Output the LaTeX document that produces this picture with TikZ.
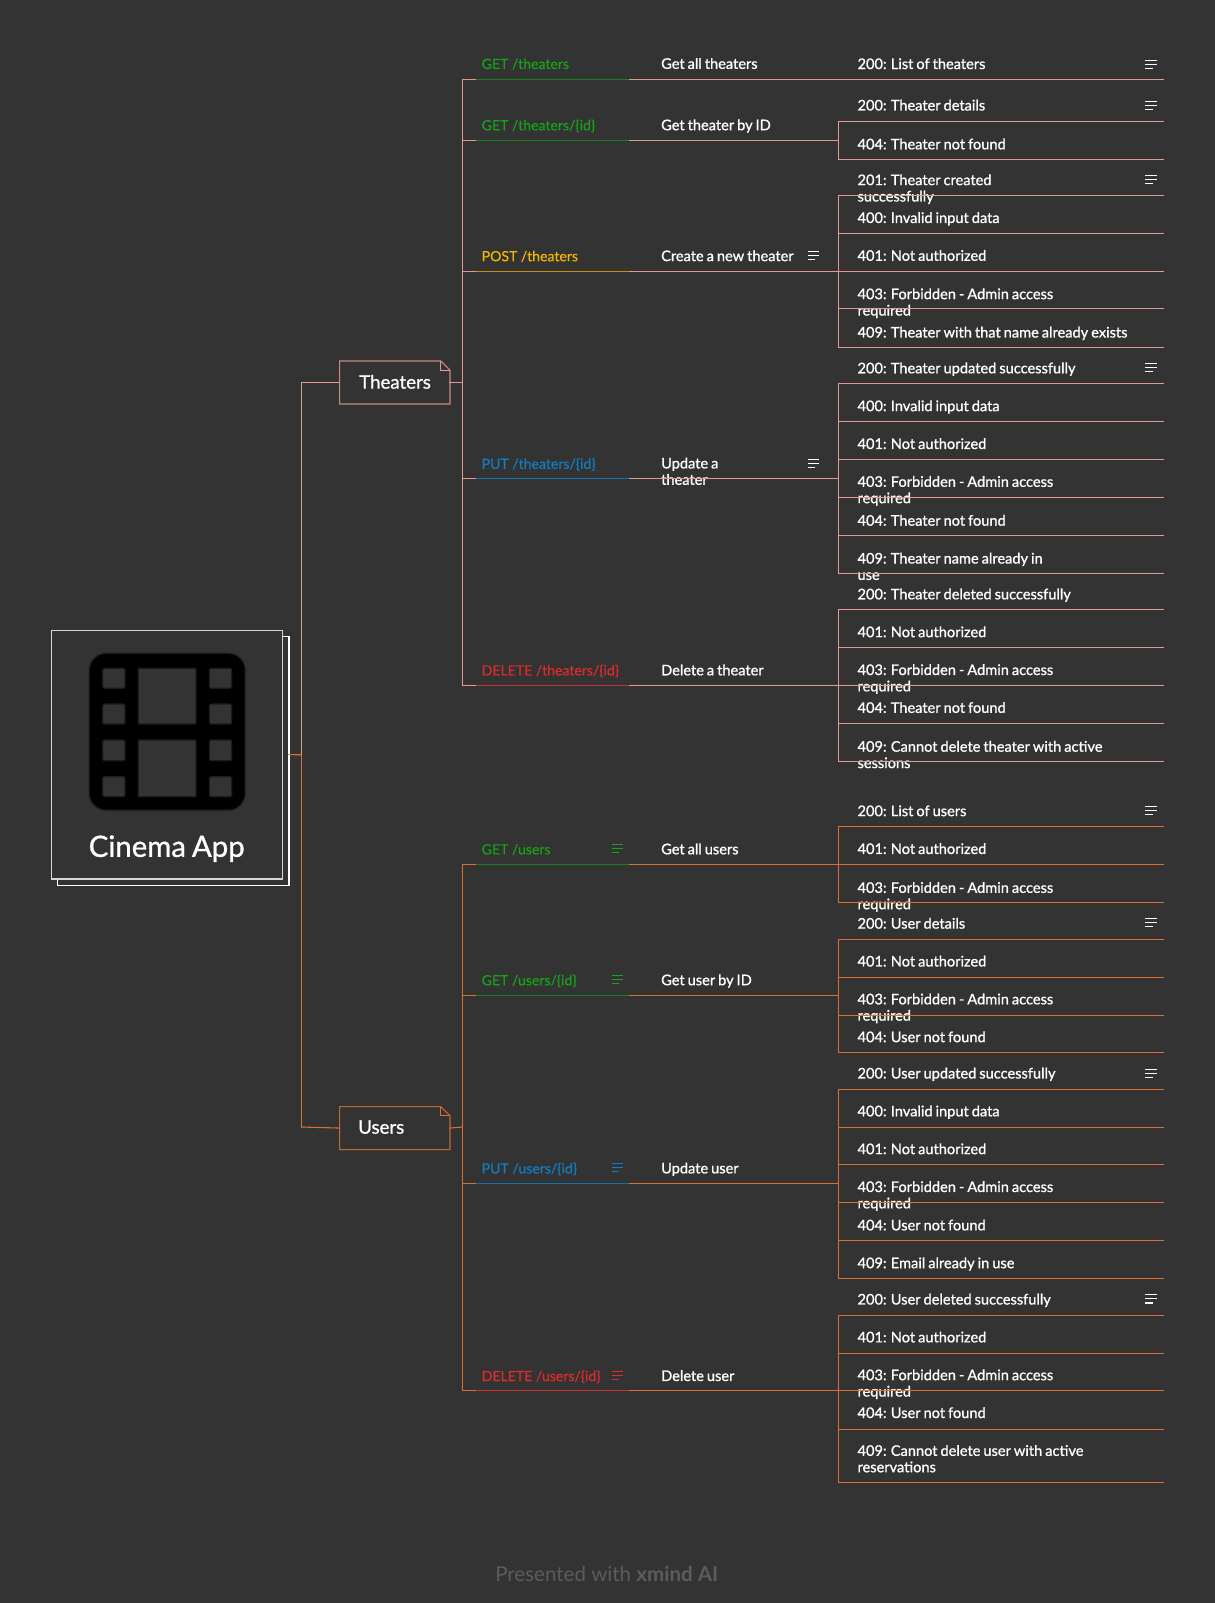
\documentclass[tikz,border=0pt]{standalone}
\usepackage{fontspec}
\setmainfont{Lato}
\newfontfamily\medf[FakeBold=1,WordSpace=0.8]{Lato}
\newfontfamily\apif[FakeBold=0.2]{Lato}
\definecolor{bg}{HTML}{333333}
\definecolor{pk}{HTML}{E39A94}
\definecolor{og}{HTML}{DB6F35}
\definecolor{ggreen}{HTML}{17A317}
\definecolor{gyellow}{HTML}{F5B800}
\definecolor{gblue}{HTML}{0F7FC4}
\definecolor{gred}{HTML}{E02B2B}
\definecolor{lgreen}{HTML}{1B7F1B}
\definecolor{lyellow}{HTML}{C09010}
\definecolor{lblue}{HTML}{1470A8}
\definecolor{lred}{HTML}{C83030}
\newcommand{\twol}[2]{\vtop{\baselineskip=12.27pt\lineskiplimit=-20pt\hbox{#1}\hbox{#2}}}
% icon: x, y-center, colour
\newcommand{\noteicon}[3]{%
  \draw[#3,line width=.85pt] (#1,#2-4) -- ++(11,0) (#1,#2) -- ++(11,0) (#1,#2+4) -- ++(7,0);}
% response: [colour] id, text y, line y, text
\newcommand{\resp}[5][pk]{%
  \node[resptext] (#2-t) at (838.5,#3+5) {#5};
  \coordinate (#2-a) at (819.5,#4);
  \coordinate (#2-b) at (1138,#4);
  \draw[conn,#1] (#2-a) -- (#2-b);}
% api: id, text y, line y, textcol, linecol, method, summary, branchcol
\newcommand{\api}[8]{%
  \node[apitext,#4] (#1-m) at (471,#2+5.4) {#6};
  \node[resptext] (#1-s) at (646.5,#2+5.3) {#7};
  \coordinate (#1-l) at (452,#3);
  \coordinate (#1-c) at (465.5,#3);
  \coordinate (#1-d) at (616,#3);
  \coordinate (#1-r) at (819.5,#3);
  \draw[conn,#8] (#1-l) -- (#1-c);
  \draw[conn,#5] (#1-c) -- (#1-d);
  \draw[conn,#8] (#1-d) -- (#1-r);}
\begin{document}
\begin{tikzpicture}[x=0.767pt,y=-0.767pt,
  conn/.style={line width=0.8pt,line cap=rect},
  resptext/.style={anchor=base west,inner sep=0pt,outer sep=0pt,text=white,font=\medf\fontsize{10.95pt}{12.27pt}\selectfont},
  apitext/.style={anchor=base west,inner sep=0pt,outer sep=0pt,font=\apif\fontsize{10.55pt}{12.27pt}\selectfont},
  topic/.style={draw=none,inner sep=0pt,outer sep=0pt,minimum width=108*0.767pt,minimum height=42*0.767pt},
  topictext/.style={anchor=base west,inner sep=0pt,text=white,font=\medf\fontsize{14pt}{15pt}\selectfont},
  card/.style={draw,fill=bg,inner sep=0pt,outer sep=0pt,line width=0.8pt},
  hole/.style={fill=bg,draw=black!45!bg,line width=.9pt,rounded corners=1.5pt}]
\useasboundingbox (0,0) rectangle (1188,1567.4);
\fill[bg] (0,0) rectangle (1188,1567.4);

% root cards
\node[card,draw=white,minimum width=226.6*0.767pt,minimum height=243.4*0.767pt] (rootback) at (169.3,744) {};
\node[card,draw=white!80!bg,minimum width=226.5*0.767pt,minimum height=243.2*0.767pt] (root) at (163.15,737.9) {};
% film icon (soft edged)
\draw[black,opacity=.2,line width=2.6pt,rounded corners=16*0.767pt] (88,639.5) rectangle (239,791.5);
\draw[black,opacity=.4,line width=1.3pt,rounded corners=16*0.767pt] (88,639.5) rectangle (239,791.5);
\fill[black,rounded corners=16*0.767pt] (88,639.5) rectangle (239,791.5);
\foreach \ya/\yb in {653.5/673,688.4/708,723.6/743.8,759.4/779}{
  \path[hole] (100.4,\ya) rectangle (122.2,\yb);
  \path[hole] (204.7,\ya) rectangle (226.6,\yb);
}
\path[hole,rounded corners=.5pt] (135.2,653.5) rectangle (191.6,708);
\path[hole,rounded corners=.5pt] (135.2,723.6) rectangle (191.6,779);
\node[anchor=base,inner sep=0pt,text=white,font=\medf\fontsize{22pt}{24pt}\selectfont] (roottext) at (163,837.8) {Cinema App};

% trunk
\coordinate (trunkmid) at (295,738);
\coordinate (trunktop) at (295,374);
\coordinate (trunkbot) at (295,1102);
\draw[conn,pk] (trunkmid) -- (trunktop);
\draw[conn,og] (trunkmid) -- (trunkbot);
\draw[conn,og] (rootback.east |- root.east) -- (trunkmid);

% Theaters topic
\node[topic] (theaters) at (386,374) {};
\draw[conn,pk!85!bg,line cap=butt] (theaters.north west) -- ([xshift=-6.9pt]theaters.north east) -- ([yshift=-6.9pt]theaters.north east) -- (theaters.south east) -- (theaters.south west) -- cycle;
\draw[pk,line width=.7pt] ([xshift=-6.9pt]theaters.north east) -- ([xshift=-6.9pt,yshift=-6.9pt]theaters.north east) -- ([yshift=-6.9pt]theaters.north east);
\node[topictext] (theaterst) at (351,380) {Theaters};
\draw[conn,pk] (trunktop) -- (theaters.west);
\coordinate (bt) at (452,374);
\draw[conn,pk] (theaters.east) -- (bt);

\api{a1}{62}{77.5}{ggreen}{lgreen}{GET /theaters}{Get all theaters}{pk}
\api{a2}{122}{137}{ggreen}{lgreen}{GET /theaters/\{id\}}{Get theater by ID}{pk}
\api{a3}{250}{265.3}{gyellow}{lyellow}{POST /theaters}{Create a new theater}{pk}
\node[apitext,gblue] (a4-m) at (471,458.4) {PUT /theaters/\{id\}};
\node[resptext] (a4-s) at (646.5,458) {\twol{Update a}{theater}};
\coordinate (a4-l) at (452,468); \coordinate (a4-c) at (465.5,468); \coordinate (a4-d) at (616,468); \coordinate (a4-r) at (819.5,468);
\draw[conn,pk] (a4-l) -- (a4-c); \draw[conn,lblue] (a4-c) -- (a4-d); \draw[conn,pk] (a4-d) -- (a4-r);
\api{a5}{655}{670}{gred}{lred}{DELETE /theaters/\{id\}}{Delete a theater}{pk}
\draw[conn,pk] (a1-l) -- (a5-l);
\coordinate (r0-b) at (1138,77.5);
\draw[conn,pk] (a1-r) -- (r0-b);
\noteicon{790}{250}{white}
\noteicon{790}{453}{white}

% responses theaters
\node[resptext] (r0-t) at (838.5,67.5) {200: List of theaters};
\noteicon{1120}{63}{white}
\resp{r1}{103}{119}{200: Theater details}
\resp{r2}{141}{156}{404: Theater not found}
\draw[conn,pk] (r1-a) -- (r2-a);
\noteicon{1120}{103}{white}

\resp{r3}{176}{191}{\twol{201: Theater created}{successfully}}
\resp{r4}{213}{228.5}{400: Invalid input data}
\resp{r5}{250}{265.3}{401: Not authorized}
\resp{r6}{287.5}{302}{\twol{403: Forbidden - Admin access}{required}}
\resp{r7}{325}{340}{409: Theater with that name already exists}
\draw[conn,pk] (r3-a) -- (r7-a);
\noteicon{1120}{175.5}{white}

\resp{r8}{360}{375}{200: Theater updated successfully}
\resp{r9}{397}{412}{400: Invalid input data}
\resp{r10}{434}{449.5}{401: Not authorized}
\resp{r11}{471}{486.5}{\twol{403: Forbidden - Admin access}{required}}
\resp{r12}{509}{524}{404: Theater not found}
\resp{r13}{546}{560.5}{\twol{409: Theater name already in}{use}}
\draw[conn,pk] (r8-a) -- (r13-a);
\noteicon{1120}{359.5}{white}

\resp{r14}{581}{596}{200: Theater deleted successfully}
\resp{r15}{618}{633}{401: Not authorized}
\resp{r16}{655}{670}{\twol{403: Forbidden - Admin access}{required}}
\resp{r17}{692}{707.5}{404: Theater not found}
\resp{r18}{730}{745}{\twol{409: Cannot delete theater with active}{sessions}}
\draw[conn,pk] (r14-a) -- (r18-a);

% Users topic
\node[topic] (users) at (386,1103) {};
\draw[conn,og!85!bg,line cap=butt] (users.north west) -- ([xshift=-6.9pt]users.north east) -- ([yshift=-6.9pt]users.north east) -- (users.south east) -- (users.south west) -- cycle;
\draw[og,line width=.7pt] ([xshift=-6.9pt]users.north east) -- ([xshift=-6.9pt,yshift=-6.9pt]users.north east) -- ([yshift=-6.9pt]users.north east);
\node[topictext] (userst) at (350,1108.5) {Users};
\draw[conn,og] (trunkbot) -- (users.west);
\coordinate (bu) at (452,1102);
\draw[conn,og] (users.east) -- (bu);

\api{u1}{830}{845.5}{ggreen}{lgreen}{GET /users}{Get all users}{og}
\api{u2}{958}{973.5}{ggreen}{lgreen}{GET /users/\{id\}}{Get user by ID}{og}
\api{u3}{1142}{1157.5}{gblue}{lblue}{PUT /users/\{id\}}{Update user}{og}
\api{u4}{1345}{1360}{gred}{lred}{DELETE /users/\{id\}}{Delete user}{og}
\draw[conn,og] (u1-l) -- (u4-l);
\noteicon{598}{829.7}{ggreen}
\noteicon{598}{958}{ggreen}
\noteicon{598}{1141.7}{gblue}
\noteicon{598}{1345}{gred}

\resp[og]{s1}{793}{808.5}{200: List of users}
\resp[og]{s2}{830}{845.5}{401: Not authorized}
\resp[og]{s3}{868}{882.5}{\twol{403: Forbidden - Admin access}{required}}
\draw[conn,og] (s1-a) -- (s3-a);
\noteicon{1120}{792.5}{white}

\resp[og]{s4}{903}{918.5}{200: User details}
\resp[og]{s5}{940}{955.5}{401: Not authorized}
\resp[og]{s6}{977}{992.5}{\twol{403: Forbidden - Admin access}{required}}
\resp[og]{s7}{1014}{1029.5}{404: User not found}
\draw[conn,og] (s4-a) -- (s7-a);
\noteicon{1120}{902.1}{white}

\resp[og]{s8}{1049.5}{1065}{200: User updated successfully}
\resp[og]{s9}{1086.5}{1102}{400: Invalid input data}
\resp[og]{s10}{1123.5}{1139}{401: Not authorized}
\resp[og]{s11}{1160.5}{1176}{\twol{403: Forbidden - Admin access}{required}}
\resp[og]{s12}{1198}{1213}{404: User not found}
\resp[og]{s13}{1235}{1250.5}{409: Email already in use}
\draw[conn,og] (s8-a) -- (s13-a);
\noteicon{1120}{1049.5}{white}

\resp[og]{s14}{1270.5}{1286}{200: User deleted successfully}
\resp[og]{s15}{1307.5}{1323}{401: Not authorized}
\resp[og]{s16}{1344.5}{1360}{\twol{403: Forbidden - Admin access}{required}}
\resp[og]{s17}{1381.5}{1397.5}{404: User not found}
\resp[og]{s18}{1418.5}{1450}{\twol{409: Cannot delete user with active}{reservations}}
\draw[conn,og] (s14-a) -- (s18-a);
\noteicon{1120}{1270}{white}

% footer
\node[anchor=base west,inner sep=0pt,text=white!20!bg,font=\fontsize{15.4pt}{17pt}\selectfont] (footer) at (484,1546.8) {Presented with {\bfseries xmind AI}};
\end{tikzpicture}
\end{document}
